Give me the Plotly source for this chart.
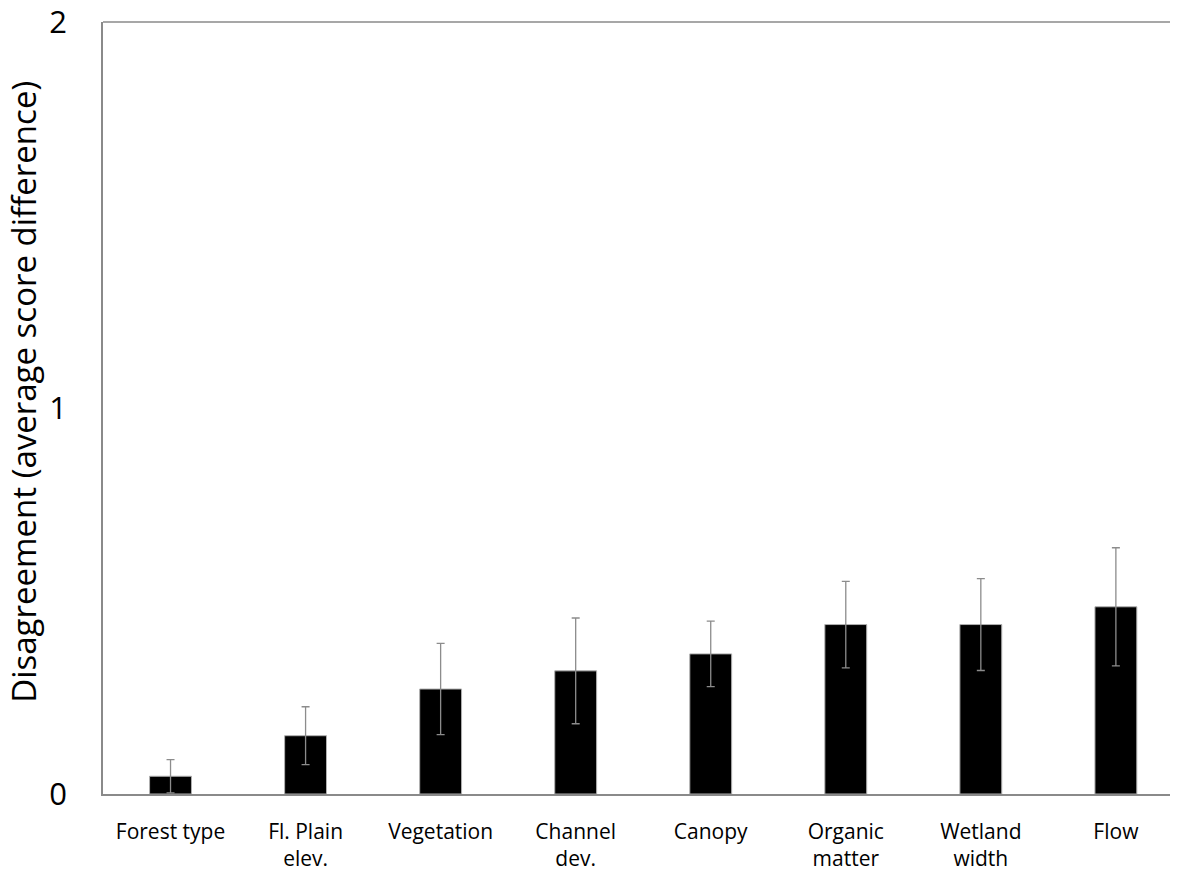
"""Bar chart of rater disagreement per assessment variable."""

import plotly.graph_objects as go

categories = [
    "Forest type",
    "Fl. Plain<br>elev.",
    "Vegetation",
    "Channel<br>dev.",
    "Canopy",
    "Organic<br>matter",
    "Wetland<br>width",
    "Flow",
]
disagreement = [0.046, 0.151, 0.272, 0.319, 0.363, 0.439, 0.439, 0.485]
error = [0.043, 0.075, 0.118, 0.137, 0.085, 0.112, 0.119, 0.153]
y_ticks = [0, 1, 2]

AXIS_GREY = "#8a8a8a"
FONT = "Open Sans"

fig = go.Figure(
    go.Bar(
        x=list(range(len(categories))),
        y=disagreement,
        marker={"color": "black", "line": {"color": "#b0b0b0", "width": 1}},
        width=0.31,
        error_y={
            "type": "data",
            "array": error,
            "visible": True,
            "color": "#8c8c8c",
            "thickness": 1.3,
            "width": 4,
        },
    )
)

fig.update_xaxes(
    tickvals=list(range(len(categories))),
    ticktext=categories,
    range=[-0.5, 7.46],
    showline=True,
    linecolor=AXIS_GREY,
    linewidth=1.5,
    ticks="outside",
    ticklen=18,
    tickcolor="rgba(0,0,0,0)",
    tickfont={"family": FONT, "size": 21, "color": "black"},
    ticklabeloverflow="allow",
    automargin=False,
    showgrid=False,
    zeroline=False,
)
fig.update_yaxes(
    range=[0, 2],
    tickvals=y_ticks,
    showline=True,
    linecolor=AXIS_GREY,
    linewidth=1.5,
    ticks="outside",
    ticklen=28,
    tickcolor="rgba(0,0,0,0)",
    tickfont={"family": FONT, "size": 31, "color": "black"},
    ticklabeloverflow="allow",
    automargin=False,
    showgrid=False,
    zeroline=False,
)

# top border line
fig.add_shape(
    type="line",
    xref="paper",
    yref="paper",
    x0=0,
    x1=1,
    y0=1,
    y1=1,
    line={"color": AXIS_GREY, "width": 1.5},
)

fig.add_annotation(
    text="Disagreement (average score difference)",
    xref="paper",
    yref="paper",
    x=-0.0735,
    y=0.521,
    textangle=-90,
    showarrow=False,
    xanchor="center",
    yanchor="middle",
    font={"family": FONT, "size": 33, "color": "black"},
)

fig.update_layout(
    width=1170,
    height=874,
    margin={"l": 95, "r": 0, "t": 14, "b": 88},
    paper_bgcolor="white",
    plot_bgcolor="white",
    showlegend=False,
)

fig.write_html("out.html")
